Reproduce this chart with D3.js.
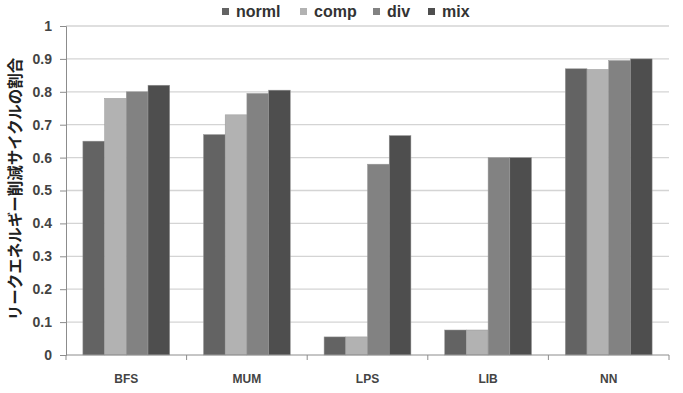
<!DOCTYPE html>
<html>
<head>
<meta charset="utf-8">
<script src="https://cdn.jsdelivr.net/npm/d3@7"></script>
<style>
  body { margin: 0; background: #fff; }
  text { font-family: "Liberation Sans", Arial, sans-serif; }
</style>
</head>
<body>
<div id="chart"></div>
<script>
(function () {
    var width = 683,
        height = 393;

    // data
    var categories = ["BFS", "MUM", "LPS", "LIB", "NN"];
    var seriesNames = ["norml", "comp", "div", "mix"];
    var norml = [0.65, 0.67, 0.055, 0.076, 0.87];
    var comp  = [0.78, 0.73, 0.055, 0.076, 0.868];
    var div   = [0.80, 0.795, 0.58, 0.60, 0.895];
    var mix   = [0.82, 0.805, 0.667, 0.60, 0.90];
    var yTicks = [0, 0.1, 0.2, 0.3, 0.4, 0.5, 0.6, 0.7, 0.8, 0.9, 1];
    var colors = ["#636363", "#b2b2b2", "#828282", "#4e4e4e"];

    var seriesValues = [norml, comp, div, mix];
    var rows = categories.map(function (c, i) {
        return { cat: c, values: seriesNames.map(function (s, j) {
            return { key: s, value: seriesValues[j][i], color: colors[j] };
        }) };
    });

    var left = 66, right = 669, top = 26, bottom = 355;

    var svg = d3.select("#chart")
        .append("svg")
        .attr("width", width)
        .attr("height", height);

    var y = d3.scaleLinear().domain([0, 1]).range([bottom, top]);

    var x0 = d3.scaleBand().domain(categories).range([left, right])
        .paddingInner(0.28).paddingOuter(0.14);
    var x1 = d3.scaleBand().domain(seriesNames).range([0, x0.bandwidth()]);

    // gridlines
    svg.append("g")
        .selectAll("line")
        .data(yTicks.filter(function (d) { return d > 0; }))
        .enter().append("line")
        .attr("x1", left).attr("x2", right)
        .attr("y1", function (d) { return y(d); })
        .attr("y2", function (d) { return y(d); })
        .attr("stroke", "#d4d4d4")
        .attr("stroke-width", 1.3);

    // bars
    var groups = svg.selectAll(".grp")
        .data(rows)
        .enter().append("g")
        .attr("class", "grp")
        .attr("transform", function (d) { return "translate(" + x0(d.cat) + ",0)"; });

    groups.selectAll("rect")
        .data(function (d) { return d.values; })
        .enter().append("rect")
        .attr("x", function (d) { return x1(d.key); })
        .attr("width", x1.bandwidth())
        .attr("y", function (d) { return y(d.value); })
        .attr("height", function (d) { return bottom - y(d.value); })
        .attr("fill", function (d) { return d.color; })
        .attr("stroke", "#9a9a9a")
        .attr("stroke-width", 0.5);

    // y axis
    var yAxis = d3.axisLeft(y).tickValues(yTicks).tickSize(6)
        .tickFormat(function (d) { return d === 0 || d === 1 ? d : d3.format(".1f")(d); });
    var gy = svg.append("g")
        .attr("transform", "translate(" + left + ",0)")
        .call(yAxis);
    gy.select(".domain").attr("stroke", "#8c8c8c");
    gy.selectAll(".tick line").attr("stroke", "#8c8c8c");
    gy.selectAll(".tick text")
        .attr("x", -14)
        .attr("fill", "#444")
        .style("font-size", "14px")
        .style("font-weight", "bold");

    // x axis
    var boundaries = d3.range(categories.length + 1).map(function (i) {
        return left + i * x0.step();
    });
    var gx = svg.append("g");
    gx.append("line")
        .attr("x1", left).attr("x2", right)
        .attr("y1", bottom).attr("y2", bottom)
        .attr("stroke", "#8c8c8c");
    gx.selectAll(".xt")
        .data(boundaries)
        .enter().append("line")
        .attr("x1", function (d) { return d; })
        .attr("x2", function (d) { return d; })
        .attr("y1", bottom).attr("y2", bottom + 5)
        .attr("stroke", "#8c8c8c");
    gx.selectAll(".xl")
        .data(categories)
        .enter().append("text")
        .attr("x", function (d) { return x0(d) + x0.bandwidth() / 2; })
        .attr("y", 383)
        .attr("text-anchor", "middle")
        .attr("fill", "#444")
        .style("font-size", "12px")
        .style("font-weight", "bold")
        .text(function (d) { return d; });

    // y title
    svg.append("text")
        .attr("transform", "translate(21,189) rotate(-90)")
        .attr("text-anchor", "middle")
        .attr("fill", "#222")
        .style("font-family", "'Noto Sans CJK JP', sans-serif")
        .style("font-size", "15.5px")
        .style("font-weight", "bold")
        .text("リークエネルギー削減サイクルの割合");

    // legend
    var legendX = [222, 300, 373, 428];
    var legend = svg.selectAll(".leg")
        .data(seriesNames)
        .enter().append("g")
        .attr("class", "leg")
        .attr("transform", function (d, i) { return "translate(" + legendX[i] + ",0)"; });
    legend.append("rect")
        .attr("x", 0).attr("y", 8)
        .attr("width", 7).attr("height", 7)
        .attr("fill", function (d, i) { return colors[i]; });
    legend.append("text")
        .attr("x", 14).attr("y", 16.5)
        .attr("fill", "#333")
        .style("font-size", "16px")
        .style("font-weight", "bold")
        .text(function (d) { return d; });
})();
</script>
</body>
</html>
